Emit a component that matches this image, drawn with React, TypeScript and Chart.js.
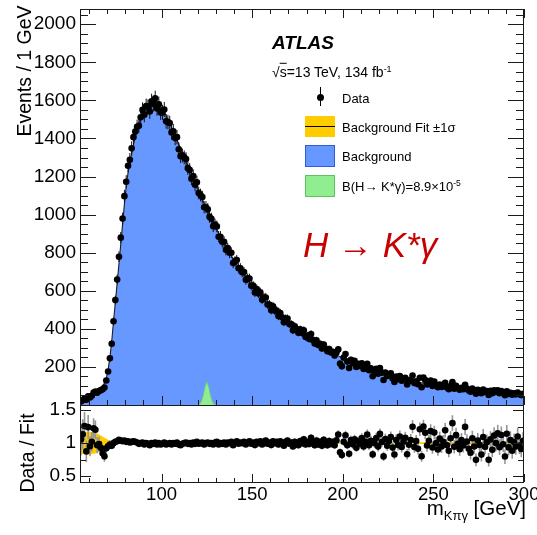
import React, { useEffect, useRef } from "react";
import { Chart, registerables } from "chart.js";

Chart.register(...registerables);

const FONT = "'Liberation Sans', Arial, Helvetica, sans-serif";

// Mass axis (GeV), 1 GeV bins
const MASS_MIN = 55;
const MASS_MAX = 300;
const BIN_WIDTH = 1;

// Background fit, events per 1 GeV bin (bins 55-56 ... 299-300 GeV)
const backgroundFit = [
  18, 22, 27, 32, 37, 42, 47, 53, 59, 66,
  74, 84, 98, 115, 140, 185, 250, 335, 440, 540,
  640, 742, 845, 950, 1055, 1150, 1220, 1275, 1322, 1366,
  1408, 1447, 1482, 1511, 1535, 1555, 1570, 1582, 1590, 1595,
  1597, 1595, 1590, 1580, 1568, 1553, 1537, 1520, 1501, 1481,
  1460, 1438, 1416, 1393, 1370, 1347, 1324, 1301, 1279, 1257,
  1235, 1213, 1191, 1169, 1147, 1125, 1103, 1081, 1060, 1039,
  1018, 998, 978, 958, 939, 920, 902, 884, 866, 849,
  832, 816, 800, 784, 769, 754, 739, 725, 711, 697,
  684, 671, 658, 645, 633, 621, 609, 597, 586, 575,
  564, 553, 543, 533, 523, 513, 504, 495, 486, 477,
  469, 461, 453, 445, 437, 429, 421, 413, 406, 399,
  392, 385, 378, 371, 364, 358, 351, 345, 339, 333,
  327, 321, 315, 309, 303, 297, 291, 285, 279, 274,
  268, 263, 258, 253, 248, 244, 239, 235, 231, 227,
  223, 219, 215, 211, 207, 203, 199, 196, 192, 189,
  186, 182, 179, 176, 173, 170, 167, 164, 161, 158,
  155, 152, 149, 146, 143, 140, 138, 136, 134, 132,
  130, 128, 126, 124, 122, 121, 119, 118, 116, 115,
  113, 112, 110, 109, 107, 106, 104, 103, 101, 100,
  98, 97, 95, 94, 93, 92, 91, 90, 89, 88,
  87, 86, 85, 84, 83, 82, 81, 80, 79, 77,
  76, 75, 74, 73, 72, 71, 70, 69, 69, 68,
  67, 66, 65, 64, 64, 63, 62, 61, 61, 60,
  59, 59, 58, 57, 57,
];

// Data / Fit per bin
const dataOverFit = [
  1.05, 1.14, 1.25, 0.88, 1.25, 0.95, 1.03, 1.23, 1.21, 0.97,
  0.98, 0.93, 0.85, 0.80, 0.92, 0.95, 0.98, 0.96, 1.00, 1.02,
  1.03, 1.05, 1.04, 1.03, 1.04, 1.02, 1.03, 1.01, 1.02, 1.03,
  1.02, 1.01, 0.99, 1.00, 1.01, 0.98, 1.00, 0.99, 0.97, 1.00,
  0.99, 1.01, 0.98, 1.00, 0.98, 0.99, 1.01, 0.98, 0.99, 1.00,
  0.98, 1.00, 0.99, 1.01, 0.98, 0.97, 0.99, 1.00, 1.01, 0.99,
  1.00, 0.98, 1.01, 0.99, 1.02, 0.99, 1.00, 1.01, 0.98, 1.00,
  1.01, 0.99, 1.00, 0.98, 1.01, 1.02, 0.98, 1.00, 0.99, 1.01,
  0.98, 1.01, 1.00, 1.02, 0.97, 1.00, 1.03, 0.99, 1.01, 1.00,
  1.02, 0.98, 1.01, 1.03, 0.99, 1.01, 0.97, 1.02, 1.00, 1.03,
  0.98, 1.02, 1.04, 0.99, 1.01, 0.97, 1.03, 1.00, 1.02, 0.98,
  1.03, 1.00, 0.96, 1.02, 1.04, 0.99, 1.01, 0.95, 1.02, 1.00,
  0.97, 1.03, 1.00, 1.06, 0.98, 1.02, 0.99, 1.08, 1.01, 0.97,
  1.04, 0.98, 1.02, 0.96, 1.05, 1.00, 0.97, 1.03, 0.99, 1.02,
  0.97, 1.04, 1.13, 0.86, 0.82, 1.02, 1.12, 0.97, 0.84, 1.05,
  0.98, 1.06, 0.93, 1.03, 0.99, 1.08, 0.95, 1.02, 1.13, 0.97,
  1.04, 0.83, 1.00, 1.08, 0.95, 1.14, 1.02, 0.80, 1.06, 0.96,
  1.03, 1.09, 0.93, 0.83, 1.05, 0.97, 1.10, 0.94, 1.02, 1.08,
  0.83, 0.98, 1.05, 1.25, 0.94, 1.03, 0.92, 1.21, 0.80, 1.25,
  1.16, 0.96, 1.04, 1.18, 0.93, 1.16, 1.00, 0.90, 1.07, 0.95,
  1.02, 1.20, 0.97, 0.88, 1.08, 1.30, 0.94, 1.12, 0.99, 0.91,
  1.05, 0.96, 1.25, 1.02, 0.92, 0.85, 1.08, 0.95, 0.75, 1.04,
  0.97, 0.83, 1.10, 0.94, 1.02, 0.75, 1.06, 0.90, 1.12, 1.00,
  1.15, 0.94, 1.12, 0.98, 0.80, 1.15, 0.93, 1.05, 0.89, 1.02,
  0.95, 1.10, 0.97, 0.92, 1.03,
];

// Signal B(H -> K*gamma) = 8.9e-5
const signalMass = [119, 120, 121, 122, 123, 124, 125, 126, 127, 128, 129, 130, 131];
const signalEvents = [0, 0, 4, 18, 50, 95, 122, 95, 50, 18, 4, 0, 0];

// Background fit +-1 sigma band (relative half width) in the ratio panel
const bandMass = [55, 58, 61, 64, 67, 70, 73, 76, 80, 100, 150, 200, 250, 300];
const bandHalfWidth = [0.16, 0.17, 0.17, 0.15, 0.11, 0.06, 0.025, 0.012, 0.008, 0.005, 0.006, 0.01, 0.015, 0.022];

// Tick labels
const xTickLabels = [100, 150, 200, 250, 300];
const mainYTickLabels = [200, 400, 600, 800, 1000, 1200, 1400, 1600, 1800, 2000];
const ratioYTickLabels = [0.5, 1, 1.5];

const MAIN_Y_MAX = 2080;
const RATIO_Y_MIN = 0.41;
const RATIO_Y_MAX = 1.58;

const binCenters = backgroundFit.map((_, i) => MASS_MIN + (i + 0.5) * BIN_WIDTH);
const observed = backgroundFit.map((f, i) => Math.round(f * dataOverFit[i]));

function range(a: number, b: number, step: number, skip: number[] = []) {
  const out: number[] = [];
  for (let v = a; v <= b + 1e-9; v += step) {
    const r = Math.round(v * 1000) / 1000;
    if (!skip.some((s) => Math.abs(s - r) < 1e-6)) out.push(r);
  }
  return out;
}

const plainLabel = (v: any) => String(v);

function framePlugin(spec: {
  xMajor: number[]; xMinor: number[]; yMajor: number[]; yMinor: number[];
  xMaj: number; xMin: number; yMaj: number; yMin: number; topTicks: boolean;
}) {
  return {
    id: "frameTicks",
    afterDatasetsDraw(chart: any) {
      const { ctx, chartArea: a } = chart;
      const xs = chart.scales.x;
      const ys = chart.scales.y;
      ctx.save();
      ctx.strokeStyle = "#1a1a1a";
      ctx.lineWidth = 1;
      ctx.beginPath();
      const tx = (v: number, len: number) => {
        const p = Math.round(xs.getPixelForValue(v)) + 0.5;
        ctx.moveTo(p, a.bottom);
        ctx.lineTo(p, a.bottom - len);
        if (spec.topTicks) {
          ctx.moveTo(p, a.top);
          ctx.lineTo(p, a.top + len);
        }
      };
      const ty = (v: number, len: number) => {
        const p = Math.round(ys.getPixelForValue(v)) + 0.5;
        ctx.moveTo(a.left, p);
        ctx.lineTo(a.left + len, p);
        ctx.moveTo(a.right, p);
        ctx.lineTo(a.right - len, p);
      };
      spec.xMajor.forEach((v) => tx(v, spec.xMaj));
      spec.xMinor.forEach((v) => tx(v, spec.xMin));
      spec.yMajor.forEach((v) => ty(v, spec.yMaj));
      spec.yMinor.forEach((v) => ty(v, spec.yMin));
      ctx.stroke();
      ctx.strokeRect(a.left + 0.5, a.top + 0.5, a.right - a.left - 1, a.bottom - a.top);
      ctx.restore();
    },
  };
}

function errorBarPlugin(datasetIndex: number, errOf: (i: number) => number, color: string, width: number) {
  return {
    id: "errorBars",
    beforeDatasetDraw(chart: any, args: any) {
      if (args.index !== datasetIndex) return;
      const { ctx, chartArea: a } = chart;
      const ys = chart.scales.y;
      const meta = chart.getDatasetMeta(datasetIndex);
      const pts = chart.data.datasets[datasetIndex].data as { x: number; y: number }[];
      ctx.save();
      ctx.beginPath();
      ctx.rect(a.left, a.top, a.right - a.left, a.bottom - a.top);
      ctx.clip();
      ctx.strokeStyle = color;
      ctx.lineWidth = width;
      ctx.beginPath();
      meta.data.forEach((el: any, i: number) => {
        const e = errOf(i);
        const y1 = ys.getPixelForValue(pts[i].y - e);
        const y2 = ys.getPixelForValue(pts[i].y + e);
        ctx.moveTo(el.x, y1);
        ctx.lineTo(el.x, y2);
      });
      ctx.stroke();
      ctx.restore();
    },
  };
}

export default function App() {
  const mainRef = useRef<HTMLCanvasElement>(null);
  const ratioRef = useRef<HTMLCanvasElement>(null);

  useEffect(() => {
    Chart.defaults.font.family = FONT;
    Chart.defaults.color = "#000";

    const dataPts = binCenters.map((m, i) => ({ x: m, y: observed[i] }));
    const bkgPts = binCenters.map((m, i) => ({ x: m, y: backgroundFit[i] }));
    const sigPts = signalMass.map((m, i) => ({ x: m, y: signalEvents[i] }));
    const ratioPts = binCenters.map((m, i) => ({ x: m, y: observed[i] / backgroundFit[i] }));
    const bandUp = bandMass.map((m, i) => ({ x: m, y: 1 + bandHalfWidth[i] }));
    const bandDown = bandMass.map((m, i) => ({ x: m, y: 1 - bandHalfWidth[i] }));

    const main = new Chart(mainRef.current as HTMLCanvasElement, {
      type: "line",
      data: {
        datasets: [
          {
            label: "Data",
            data: dataPts,
            showLine: false,
            pointRadius: 3.3,
            pointBorderWidth: 0,
            pointBackgroundColor: "#000",
            order: 0,
          },
          {
            label: "Signal",
            data: sigPts,
            borderColor: "rgb(110,205,110)",
            borderWidth: 0.8,
            backgroundColor: "rgb(144,238,144)",
            fill: "origin",
            pointRadius: 0,
            order: 1,
          },
          {
            label: "Background",
            data: bkgPts,
            borderColor: "#1c1c28",
            borderWidth: 1.1,
            backgroundColor: "rgb(102,152,255)",
            fill: "origin",
            pointRadius: 0,
            order: 2,
          },
        ],
      },
      options: {
        animation: false,
        responsive: false,
        maintainAspectRatio: false,
        events: [],
        layout: { padding: { top: 9, bottom: 130, left: 0, right: 13 } },
        plugins: { legend: { display: false }, tooltip: { enabled: false } },
        scales: {
          x: { type: "linear", min: MASS_MIN, max: MASS_MAX, display: false },
          y: {
            type: "linear",
            min: 0,
            max: MAIN_Y_MAX,
            grid: { display: false, drawTicks: false },
            border: { display: false },
            ticks: { padding: 4, autoSkip: false, font: { size: 19 }, color: "#000", callback: plainLabel },
            afterBuildTicks: (s: any) => {
              s.ticks = mainYTickLabels.map((v) => ({ value: v }));
            },
            afterFit: (s: any) => {
              s.width = 80;
              s.paddingTop = 0;
              s.paddingBottom = 0;
            },
          },
        },
      } as any,
      plugins: [
        errorBarPlugin(0, (i) => Math.sqrt(observed[i]), "#111", 1),
        framePlugin({
          xMajor: range(100, 300, 50),
          xMinor: range(60, 290, 10, [100, 150, 200, 250]),
          yMajor: range(200, 2000, 200),
          yMinor: range(50, 2050, 50, range(200, 2000, 200)),
          xMaj: 9, xMin: 5, yMaj: 16, yMin: 8, topTicks: true,
        }),
      ],
    });

    const ratio = new Chart(ratioRef.current as HTMLCanvasElement, {
      type: "line",
      data: {
        datasets: [
          {
            label: "Data/Fit",
            data: ratioPts,
            showLine: false,
            pointRadius: 3.3,
            pointBorderWidth: 0,
            pointBackgroundColor: "#000",
            order: 0,
          },
          {
            label: "band up",
            data: bandUp,
            borderWidth: 0,
            borderColor: "rgba(0,0,0,0)",
            backgroundColor: "rgb(255,204,0)",
            fill: "+1",
            pointRadius: 0,
            tension: 0.3,
            order: 1,
          },
          {
            label: "band down",
            data: bandDown,
            borderWidth: 0,
            borderColor: "rgba(0,0,0,0)",
            backgroundColor: "rgb(255,204,0)",
            fill: false,
            pointRadius: 0,
            tension: 0.3,
            order: 2,
          },
        ],
      },
      options: {
        animation: false,
        responsive: false,
        maintainAspectRatio: false,
        events: [],
        layout: { padding: { top: 405, bottom: 0, left: 0, right: 13 } },
        plugins: { legend: { display: false }, tooltip: { enabled: false } },
        scales: {
          x: {
            type: "linear",
            min: MASS_MIN,
            max: MASS_MAX,
            grid: { display: false, drawTicks: false },
            border: { display: false },
            ticks: { padding: 2, autoSkip: false, maxRotation: 0, font: { size: 18.5 }, color: "#000", callback: plainLabel },
            afterBuildTicks: (s: any) => {
              s.ticks = xTickLabels.map((v) => ({ value: v }));
            },
            afterFit: (s: any) => {
              s.height = 53;
              s.paddingLeft = 0;
              s.paddingRight = 0;
            },
          },
          y: {
            type: "linear",
            min: RATIO_Y_MIN,
            max: RATIO_Y_MAX,
            grid: { display: false, drawTicks: false },
            border: { display: false },
            ticks: { padding: 4, autoSkip: false, font: { size: 19 }, color: "#000", callback: plainLabel },
            afterBuildTicks: (s: any) => {
              s.ticks = ratioYTickLabels.map((v) => ({ value: v }));
            },
            afterFit: (s: any) => {
              s.width = 80;
              s.paddingTop = 0;
              s.paddingBottom = 0;
            },
          },
        },
      } as any,
      plugins: [
        errorBarPlugin(0, (i) => Math.sqrt(observed[i]) / backgroundFit[i], "rgb(150,150,150)", 1.6),
        framePlugin({
          xMajor: range(100, 300, 50),
          xMinor: range(60, 290, 10, [100, 150, 200, 250]),
          yMajor: [0.5, 1, 1.5],
          yMinor: [0.75, 1.25],
          xMaj: 8, xMin: 4, yMaj: 11, yMin: 6, topTicks: false,
        }),
      ],
    });

    return () => {
      main.destroy();
      ratio.destroy();
    };
  }, []);

  const abs = (extra: React.CSSProperties): React.CSSProperties => ({
    position: "absolute",
    whiteSpace: "nowrap",
    lineHeight: 1,
    ...extra,
  });

  const legendText = (text: React.ReactNode, cy: number) => (
    <div style={abs({ left: 342, top: cy, transform: "translateY(-50%)", fontSize: 13 })}>{text}</div>
  );

  return (
    <div
      style={{
        position: "absolute",
        left: 0,
        top: 0,
        width: 537,
        height: 535,
        background: "#fff",
        fontFamily: FONT,
        color: "#000",
        overflow: "hidden",
      }}
    >
      <canvas ref={mainRef} width={537} height={535} style={{ position: "absolute", left: 0, top: 0 }} />
      <canvas ref={ratioRef} width={537} height={535} style={{ position: "absolute", left: 0, top: 0 }} />

      {/* axis titles */}
      <div style={abs({ left: 25, top: 71, transform: "translate(-50%, -50%) rotate(-90deg)", fontSize: 19.5 })}>
        Events / 1 GeV
      </div>
      <div style={abs({ left: 28, top: 453, transform: "translate(-50%, -50%) rotate(-90deg)", fontSize: 19.5 })}>
        Data / Fit
      </div>
      <div style={abs({ right: 11, top: 510, transform: "translateY(-50%)", fontSize: 20.5 })}>
        m<sub style={{ fontSize: 13, verticalAlign: "-0.35em" }}>Kπγ</sub> [GeV]
      </div>

      {/* ATLAS label */}
      <div style={abs({ left: 272, top: 42, transform: "translateY(-50%)", fontSize: 19, fontWeight: "bold", fontStyle: "italic" })}>
        ATLAS
      </div>
      <div style={abs({ left: 272, top: 72, transform: "translateY(-50%)", fontSize: 14 })}>
        √<span style={{ textDecoration: "overline" }}>s</span>=13 TeV, 134 fb
        <sup style={{ fontSize: 9, verticalAlign: "0.6em" }}>-1</sup>
      </div>

      {/* legend */}
      <div style={abs({ left: 319.5, top: 87, width: 1, height: 19, background: "#000" })} />
      <div style={abs({ left: 316.5, top: 94.2, width: 7, height: 7, borderRadius: "50%", background: "#000" })} />
      {legendText("Data", 97.7)}

      <div style={abs({ left: 305, top: 116, width: 30, height: 21, background: "rgb(255,204,0)" })} />
      <div style={abs({ left: 305, top: 126, width: 30, height: 1.2, background: "#000" })} />
      {legendText("Background Fit ±1σ", 126.7)}

      <div
        style={abs({
          left: 305, top: 145, width: 30, height: 22, boxSizing: "border-box",
          background: "rgb(102,152,255)", border: "1px solid rgb(50,90,220)",
        })}
      />
      {legendText("Background", 156)}

      <div
        style={abs({
          left: 305, top: 175, width: 30, height: 22, boxSizing: "border-box",
          background: "rgb(144,238,144)", border: "1px solid rgb(95,195,95)",
        })}
      />
      {legendText(
        <span>
          B(H→ K*γ)=8.9×10<sup style={{ fontSize: 8.5, verticalAlign: "0.6em" }}>-5</sup>
        </span>,
        185.5
      )}

      {/* channel label */}
      <div style={abs({ left: 303, top: 244, transform: "translateY(-50%)", fontSize: 35, fontStyle: "italic", color: "#c80000" })}>
        H → K*γ
      </div>
    </div>
  );
}
